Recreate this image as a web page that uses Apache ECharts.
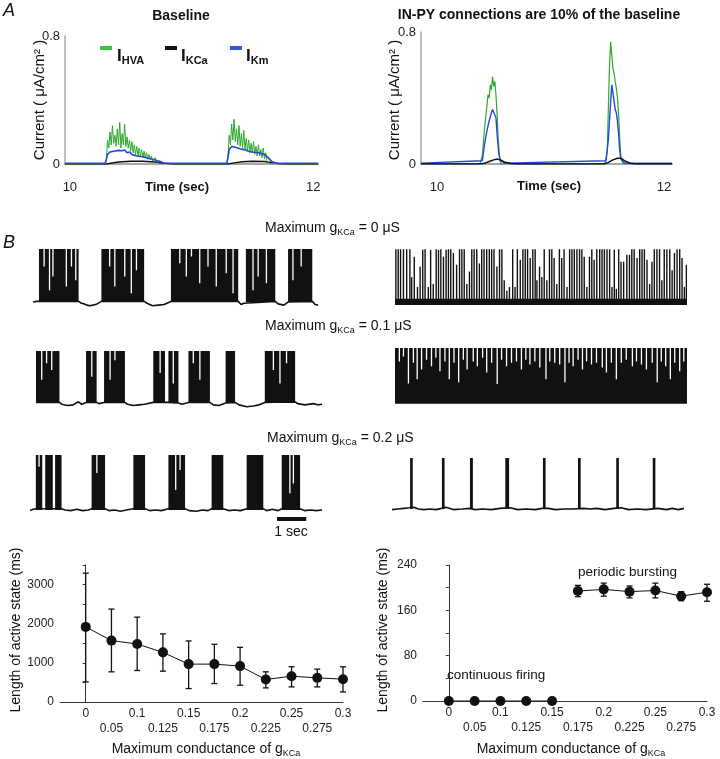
<!DOCTYPE html>
<html><head><meta charset="utf-8">
<script src="https://cdn.jsdelivr.net/npm/echarts@6/dist/echarts.min.js"></script>
<style>html,body{margin:0;padding:0;background:#fff}#c{width:720px;height:759px}</style>
</head><body><div id="c"></div>
<script>
// ================= DATA =================
// Panel A (time in s, current in uA/cm2)
const aLeftHVA = [[9.96,0.003],[10.29,0.003],[10.30,0.02],[10.31,0.15],[10.32,0.10],[10.33,0.20],[10.34,0.12],[10.35,0.24],[10.36,0.13],[10.37,0.18],[10.38,0.11],[10.39,0.22],[10.40,0.12],[10.41,0.26],[10.42,0.10],[10.43,0.19],[10.44,0.12],[10.45,0.25],[10.46,0.11],[10.47,0.17],[10.48,0.10],[10.49,0.15],[10.50,0.08],[10.51,0.14],[10.52,0.07],[10.53,0.12],[10.54,0.06],[10.55,0.11],[10.56,0.05],[10.57,0.10],[10.58,0.05],[10.59,0.09],[10.60,0.04],[10.61,0.08],[10.62,0.04],[10.63,0.07],[10.64,0.03],[10.65,0.06],[10.66,0.03],[10.67,0.05],[10.68,0.02],[10.70,0.04],[10.72,0.01],[10.74,0.02],[10.77,0.003],[11.29,0.003],[11.30,0.05],[11.31,0.18],[11.32,0.12],[11.33,0.25],[11.34,0.15],[11.35,0.28],[11.36,0.14],[11.37,0.22],[11.38,0.12],[11.39,0.24],[11.40,0.11],[11.41,0.19],[11.42,0.10],[11.43,0.21],[11.44,0.09],[11.45,0.16],[11.46,0.08],[11.47,0.15],[11.48,0.07],[11.49,0.13],[11.50,0.07],[11.51,0.14],[11.52,0.06],[11.53,0.11],[11.54,0.05],[11.55,0.12],[11.56,0.05],[11.57,0.09],[11.58,0.04],[11.59,0.10],[11.60,0.03],[11.61,0.07],[11.62,0.02],[11.64,0.003],[12.04,0.003]];
const aLeftKm = [[9.96,0.005],[10.29,0.005],[10.30,0.03],[10.31,0.06],[10.33,0.075],[10.36,0.08],[10.40,0.085],[10.43,0.083],[10.45,0.088],[10.47,0.07],[10.49,0.075],[10.51,0.06],[10.55,0.05],[10.60,0.045],[10.65,0.035],[10.70,0.025],[10.74,0.015],[10.78,0.005],[11.29,0.005],[11.30,0.04],[11.31,0.09],[11.33,0.11],[11.36,0.105],[11.40,0.095],[11.43,0.09],[11.47,0.08],[11.50,0.075],[11.55,0.07],[11.60,0.06],[11.63,0.04],[11.66,0.015],[11.70,0.005],[12.04,0.005]];
const aLeftKCa = [[9.96,0],[10.30,0],[10.35,0.006],[10.40,0.012],[10.50,0.017],[10.60,0.017],[10.70,0.012],[10.78,0.005],[10.85,0],[11.30,0],[11.35,0.007],[11.42,0.014],[11.50,0.017],[11.60,0.015],[11.66,0.008],[11.72,0.002],[11.78,0],[12.04,0]];
const aRightHVA = [[9.86,0.003],[10.38,0.003],[10.40,0.05],[10.42,0.22],[10.44,0.35],[10.45,0.42],[10.46,0.40],[10.47,0.48],[10.48,0.45],[10.49,0.53],[10.50,0.47],[10.51,0.50],[10.52,0.42],[10.53,0.30],[10.54,0.15],[10.555,0.02],[10.57,-0.005],[10.60,0.003],[11.48,0.003],[11.50,0.08],[11.51,0.35],[11.52,0.60],[11.53,0.74],[11.535,0.70],[11.54,0.66],[11.55,0.58],[11.56,0.55],[11.57,0.50],[11.58,0.46],[11.59,0.40],[11.60,0.30],[11.61,0.15],[11.62,0.04],[11.64,0.003],[12.07,0.003]];
const aRightKm = [[9.86,0.005],[10.40,0.02],[10.42,0.12],[10.44,0.20],[10.46,0.26],[10.48,0.31],[10.49,0.33],[10.50,0.32],[10.52,0.28],[10.53,0.18],[10.545,0.06],[10.56,0.02],[10.60,0.005],[11.49,0.02],[11.51,0.15],[11.53,0.38],[11.54,0.48],[11.55,0.43],[11.56,0.38],[11.57,0.33],[11.58,0.31],[11.59,0.26],[11.60,0.18],[11.61,0.08],[11.62,0.03],[11.65,0.005],[12.07,0.005]];
const aRightKCa = [[9.86,0],[10.38,0],[10.42,0.005],[10.46,0.015],[10.50,0.025],[10.53,0.03],[10.56,0.025],[10.60,0.01],[10.65,0.003],[10.70,0],[11.47,0],[11.51,0.01],[11.55,0.025],[11.59,0.035],[11.62,0.035],[11.65,0.02],[11.70,0.005],[11.75,0],[12.07,0]];
const aTicksX = [10, 12];
const aTicksY = [0, 0.8];

// Panel B voltage traces (time in s, 0..10; membrane potential in mV)
const PEAK = 20, REST = -65;
const r1lBursts = [[0.21,1.6],[2.4,3.9],[4.84,7.2],[7.47,8.5],[8.95,9.8]];
const r1lGaps = [[0.39,-8],[0.58,-46],[0.70,-24],[1.17,-40],[1.35,-8],[1.50,-30],[2.69,-8],[2.87,-40],[3.22,-24],[3.45,-51],[3.63,-14],[5.15,-3],[5.38,-24],[5.56,8],[5.85,-35],[6.14,-8],[6.43,-40],[6.78,-19],[7.02,-51],[7.72,-46],[7.90,-24],[8.19,-35],[9.12,-30],[9.41,-8]];
const r1lBase = [[0,-65],[0.1,-64],[0.21,-64],[1.6,-64],[1.7,-67],[1.8,-68],[1.9,-70],[2.0,-71],[2.1,-70],[2.25,-68],[2.4,-64],[3.9,-64],[4.0,-67],[4.2,-71],[4.4,-70],[4.6,-69],[4.84,-64],[7.2,-64],[7.3,-69],[7.4,-67],[7.47,-64],[8.5,-64],[8.6,-68],[8.8,-70],[8.95,-65],[9.8,-64],[9.9,-69],[10,-70]];

const r1rSpikes = [[0.03,18],[0.11,18],[0.19,18],[0.29,18],[0.40,18],[0.51,18],[0.57,-27],[0.66,6],[0.77,-43],[0.86,-10],[0.95,17],[1.03,18],[1.14,-43],[1.22,17],[1.31,-38],[1.41,18],[1.49,17],[1.57,18],[1.66,6],[1.75,17],[1.83,18],[1.91,18],[2.00,12],[2.11,-7],[2.21,18],[2.29,18],[2.37,18],[2.46,-38],[2.55,-18],[2.63,18],[2.71,18],[2.80,18],[2.89,-5],[2.97,18],[3.05,18],[3.14,18],[3.23,18],[3.31,18],[3.39,18],[3.49,-10],[3.58,18],[3.66,18],[3.74,-32],[3.83,-49],[3.92,-43],[4.03,18],[4.11,-43],[4.19,18],[4.29,1],[4.38,18],[4.46,18],[4.54,18],[4.63,4],[4.72,18],[4.80,18],[4.86,-32],[4.95,-10],[5.03,-27],[5.11,18],[5.20,-32],[5.29,18],[5.37,18],[5.45,4],[5.54,-38],[5.63,18],[5.71,4],[5.79,18],[5.89,-43],[5.98,18],[6.06,18],[6.14,18],[6.23,18],[6.32,18],[6.40,18],[6.48,6],[6.57,-43],[6.66,6],[6.74,18],[6.82,1],[6.91,18],[7.01,18],[7.09,18],[7.17,18],[7.26,18],[7.35,18],[7.43,-43],[7.51,17],[7.58,-46],[7.66,18],[7.74,-2],[7.83,-2],[7.94,9],[8.03,9],[8.11,18],[8.19,18],[8.29,4],[8.38,18],[8.46,18],[8.54,18],[8.63,1],[8.72,-38],[8.80,-2],[8.88,18],[8.97,18],[9.06,18],[9.14,-32],[9.22,18],[9.31,18],[9.41,18],[9.49,-16],[9.57,12],[9.66,18],[9.75,18],[9.83,4],[9.91,-43],[9.98,-7]];
const r1rBand = [[0,10,-72,-62]];

const r2lBursts = [[0,0.82],[1.75,2.12],[2.38,3.11],[4.1,4.51],[4.63,4.98],[5.33,6.08],[6.63,6.96],[8.0,9.06]];
const r2lGaps = [[0.2,-27],[0.37,0],[0.55,-11],[1.95,-22],[2.59,-27],[2.76,5],[4.34,-16],[4.8,-33],[5.5,0],[5.73,-27],[8.3,-11],[8.53,-33],[8.76,0]];
const r2lBase = [[0,-64],[0.82,-64],[0.9,-67],[1.1,-69],[1.3,-68],[1.48,-63],[1.6,-67],[1.75,-64],[2.12,-64],[2.2,-66],[2.38,-64],[3.11,-64],[3.2,-67],[3.4,-69],[3.6,-68],[3.8,-67],[4.1,-64],[4.51,-64],[4.63,-64],[4.98,-65],[5.1,-67],[5.33,-64],[6.08,-64],[6.2,-68],[6.4,-69],[6.63,-65],[6.96,-64],[7.1,-68],[7.37,-71],[7.6,-70],[7.8,-68],[8.0,-64],[9.06,-63],[9.15,-66],[9.4,-68],[9.7,-66],[9.85,-68],[10,-67]];

const r2rBlock = [[0,10,-71,20]];
const r2rGaps = [[0.15,-2],[0.29,6],[0.46,-38],[0.63,-4],[0.76,-31],[0.91,-15],[1.08,1],[1.25,-10],[1.40,4],[1.54,-18],[1.71,-2],[1.86,-31],[2.02,-4],[2.18,-36],[2.34,1],[2.47,-15],[2.68,-2],[2.82,-10],[3.0,4],[3.14,-20],[3.31,-4],[3.5,-39],[3.65,1],[3.82,-10],[3.99,-4],[4.16,-2],[4.33,-15],[4.48,1],[4.62,-7],[4.79,-2],[4.96,-12],[5.17,-31],[5.3,-2],[5.47,-4],[5.64,-7],[5.82,-36],[5.96,-4],[6.1,-10],[6.27,1],[6.42,-15],[6.56,-2],[6.73,-7],[6.9,-4],[7.1,-12],[7.24,-20],[7.41,-4],[7.58,-31],[7.75,-4],[7.92,1],[8.13,-10],[8.27,-2],[8.44,-7],[8.61,-15],[8.81,-4],[8.98,-36],[9.12,-2],[9.27,-10],[9.43,-31],[9.58,-4],[9.75,-18],[9.89,-2]];

const r3lBursts = [[0.2,0.42],[0.52,0.78],[0.86,1.08],[2.11,2.57],[3.54,3.94],[4.74,5.31],[6.22,6.62],[7.42,7.99],[8.62,9.25]];
const r3lGaps = [[2.29,-8],[4.99,-34],[5.14,-3],[8.9,-39],[9.02,-24],[0.31,2]];
const r3lBase = [[0,-66],[0.1,-64],[0.2,-63],[1.08,-63],[1.2,-65],[1.4,-66],[1.6,-64],[1.8,-66],[2.0,-65],[2.11,-63],[2.57,-63],[2.7,-66],[2.9,-65],[3.1,-67],[3.3,-65],[3.54,-63],[3.94,-63],[4.1,-66],[4.3,-65],[4.5,-66],[4.74,-63],[5.31,-63],[5.45,-66],[5.7,-67],[5.9,-65],[6.1,-66],[6.22,-63],[6.62,-63],[6.8,-66],[7.0,-65],[7.2,-66],[7.42,-63],[7.99,-63],[8.1,-66],[8.3,-64],[8.5,-66],[8.62,-63],[9.25,-63],[9.4,-66],[9.6,-65],[9.8,-66],[10,-65]];
const scaleBar = [[8.46,9.46,-79]];

const r3rBursts = [[0.62,0.71],[1.71,1.80],[2.67,2.77],[3.88,4.01],[5.17,5.26],[6.37,6.46],[7.68,7.77],[8.93,9.02]];
const r3rBase = [[0,-66],[0.2,-65],[0.4,-64],[0.6,-63],[0.75,-62],[0.9,-65],[1.1,-66],[1.3,-65],[1.5,-66],[1.7,-64],[1.85,-62],[2.1,-66],[2.4,-65],[2.65,-64],[2.85,-66],[3.1,-65],[3.4,-66],[3.7,-64],[4.05,-63],[4.3,-66],[4.6,-65],[4.9,-66],[5.15,-64],[5.35,-64],[5.6,-66],[5.9,-65],[6.2,-65],[6.55,-64],[6.8,-65],[7.0,-64],[7.3,-66],[7.6,-64],[7.85,-63],[8.1,-66],[8.4,-65],[8.7,-66],[9.1,-64],[9.4,-66],[9.6,-64],[9.8,-66],[10,-64]];

// Bottom panels
const gCats = ['0','0.05','0.1','0.125','0.15','0.175','0.2','0.225','0.25','0.275','0.3'];
const baseMean = [1919,1568,1482,1268,968,968,917,574,660,617,583];
const baseHi   = [3291,2374,2168,1740,1560,1474,1397,771,900,840,900];
const baseLo   = [514,771,805,788,343,471,428,360,386,386,257];
const inpyMean = [0,0,0,0,0,194,197,193,195,185,192];
const inpyHi   = [null,null,null,null,null,204,208,203,208,193,206];
const inpyLo   = [null,null,null,null,null,184,185,182,182,177,176];
const inpyRegime = ['c','c','c','c','c','b','b','b','b','b','b'];
const baseTicks = [0,1000,2000,3000];
const inpyTicks = [0,80,160,240];

// ================= CHART =================
const FONT = '"Liberation Sans", Arial, Helvetica, sans-serif';
const GREEN = '#2ea82e', BLUE = '#2448dc', BLACK = '#111';
const chart = echarts.init(document.getElementById('c'), null, {renderer:'canvas'});

const grids = [
  {left:65, top:36, width:253, height:128},   // 0 A left
  {left:421, top:32, width:251, height:132},  // 1 A right
  {left:33, top:249, width:285, height:57.4}, // 2 R1L
  {left:395, top:248, width:292, height:57},  // 3 R1R
  {left:36, top:351, width:286, height:56.3}, // 4 R2L
  {left:395, top:348, width:292, height:56.3},// 5 R2R
  {left:30, top:455, width:292, height:59.5}, // 6 R3L
  {left:392, top:458, width:292, height:55.2},// 7 R3R
  {left:60, top:565, width:283, height:137},  // 8 bottom left
  {left:423, top:565, width:284, height:136}  // 9 bottom right
];

const axLabel = {fontFamily:FONT, color:'#222'};
const xAxes = [], yAxes = [];
[[9.96,12.04],[9.86,12.07]].forEach((r,i)=>{
  xAxes.push({gridIndex:i, type:'value', min:r[0], max:r[1],
    axisLine:{show:true, onZero:false, lineStyle:{color:'#a8a8a8', width:2}}, axisTick:{show:false}, splitLine:{show:false},
    axisLabel:Object.assign({customValues:aTicksX, fontSize:13, margin:17, formatter:v=>String(v)}, axLabel)});
  yAxes.push({gridIndex:i, type:'value', min:0, max:0.8,
    axisLine:{show:true, lineStyle:{color:'#a8a8a8', width:1.5}}, axisTick:{show:false}, splitLine:{show:false},
    axisLabel:Object.assign({customValues:aTicksY, fontSize:13, margin:5, formatter:v=>String(v)}, axLabel)});
});
for (let i=2;i<=7;i++){
  xAxes.push({gridIndex:i, type:'value', min:0, max:10, show:false});
  yAxes.push({gridIndex:i, type:'value', min:-72, max:20, show:false});
}
function bottomX(gi){
  return {gridIndex:gi, type:'value', min:-1, max:10,
    axisLine:{show:true, onZero:false, lineStyle:{color:'#333'}}, axisTick:{show:false}, splitLine:{show:false},
    axisLabel:Object.assign({customValues:[0,1,2,3,4,5,6,7,8,9,10], fontSize:12, lineHeight:15, margin:4,
      formatter:v=>{const k=Math.round(v);return (k%2?'\n':'')+gCats[k];}}, axLabel)};
}
function bottomY(gi, max, interval, ticks){
  return {gridIndex:gi, type:'value', min:0, max, interval,
    axisLine:{show:true, lineStyle:{color:'#333'}}, axisTick:{show:true, length:3, lineStyle:{color:'#333'}}, splitLine:{show:false},
    axisLabel:Object.assign({customValues:ticks, fontSize:12, margin:6, formatter:v=>String(v)}, axLabel)};
}
xAxes.push(bottomX(8)); yAxes.push(bottomY(8, 3500, 500, baseTicks));
xAxes.push(bottomX(9)); yAxes.push(bottomY(9, 240, 40, inpyTicks));

const series = [];
function lineS(idx, data, color, w){
  series.push({type:'line', xAxisIndex:idx, yAxisIndex:idx, data, showSymbol:false, symbol:'none', silent:true,
    lineStyle:{color, width:w}, z:3, animation:false});
}
lineS(0, aLeftKCa, BLACK, 1.5); lineS(0, aLeftHVA, GREEN, 1); lineS(0, aLeftKm, BLUE, 1.6);
lineS(1, aRightHVA, GREEN, 1.2); lineS(1, aRightKm, BLUE, 1.4); lineS(1, aRightKCa, BLACK, 1.5);

function rectRender(params, api){
  const a = api.coord([api.value(0), api.value(3)]);
  const b = api.coord([api.value(1), api.value(2)]);
  return {type:'rect', shape:{x:a[0], y:a[1], width:Math.max(b[0]-a[0],2.5), height:b[1]-a[1]}, style:{fill:BLACK}};
}
function gapRender(params, api){
  const a = api.coord([api.value(0), PEAK]);
  const b = api.coord([api.value(0), api.value(1)]);
  return {type:'line', shape:{x1:a[0], y1:a[1], x2:b[0], y2:b[1]}, style:{stroke:'#fff', lineWidth:1.3}};
}
function spikeRender(params, api){
  const a = api.coord([api.value(0), REST+1]);
  const b = api.coord([api.value(0), api.value(1)]);
  return {type:'line', shape:{x1:a[0], y1:a[1], x2:b[0], y2:b[1]}, style:{stroke:BLACK, lineWidth:1.4}};
}
function customS(idx, data, render, z, clip){
  series.push({type:'custom', xAxisIndex:idx, yAxisIndex:idx, data, renderItem:render, z:z||2, silent:true, animation:false, clip: clip!==false});
}
const withLevels = b => b.map(d=>[d[0], d[1], REST, PEAK]);

customS(2, withLevels(r1lBursts), rectRender, 2); customS(2, r1lGaps, gapRender, 3); lineS(2, r1lBase, BLACK, 1.6);
customS(3, r1rBand, rectRender, 2); customS(3, r1rSpikes, spikeRender, 3);
customS(4, withLevels(r2lBursts), rectRender, 2); customS(4, r2lGaps, gapRender, 3); lineS(4, r2lBase, BLACK, 1.6);
customS(5, r2rBlock, rectRender, 2); customS(5, r2rGaps, gapRender, 3);
customS(6, withLevels(r3lBursts), rectRender, 2); customS(6, r3lGaps, gapRender, 3); lineS(6, r3lBase, BLACK, 1.6);
customS(6, scaleBar, (p, api)=>{
  const a = api.coord([api.value(0), api.value(2)]); const b = api.coord([api.value(1), api.value(2)]);
  return {type:'rect', shape:{x:a[0], y:a[1]-2, width:b[0]-a[0], height:4}, style:{fill:BLACK}};
}, 3, false);
customS(7, withLevels(r3rBursts), rectRender, 2); lineS(7, r3rBase, BLACK, 1.6);

function errRender(params, api){
  const x = api.value(0);
  const t = api.coord([x, api.value(2)]), b = api.coord([x, api.value(1)]);
  const c = 3;
  return {type:'group', children:[
    {type:'line', shape:{x1:t[0], y1:t[1], x2:b[0], y2:b[1]}, style:{stroke:BLACK, lineWidth:1.3}},
    {type:'line', shape:{x1:t[0]-c, y1:t[1], x2:t[0]+c, y2:t[1]}, style:{stroke:BLACK, lineWidth:1.3}},
    {type:'line', shape:{x1:b[0]-c, y1:b[1], x2:b[0]+c, y2:b[1]}, style:{stroke:BLACK, lineWidth:1.3}}
  ]};
}
customS(8, baseMean.map((m,i)=>[i, baseLo[i], baseHi[i]]), errRender, 2, false);
series.push({type:'line', xAxisIndex:8, yAxisIndex:8, data:baseMean.map((m,i)=>[i,m]), symbol:'circle', symbolSize:10,
  itemStyle:{color:BLACK}, lineStyle:{color:BLACK, width:1}, z:4, animation:false, silent:true});
customS(9, inpyMean.map((m,i)=>[i, inpyLo[i], inpyHi[i]]).filter(d=>d[1]!==null), errRender, 2, false);
['c','b'].forEach(r=>{
  series.push({type:'line', xAxisIndex:9, yAxisIndex:9,
    data:inpyMean.map((m,i)=>[i,m]).filter((d,i)=>inpyRegime[i]===r), symbol:'circle', symbolSize:10,
    itemStyle:{color:BLACK}, lineStyle:{color:BLACK, width:1}, z:4, animation:false, silent:true});
});

// ================= TEXT =================
function T(x, y, text, st, rot){
  return {type:'text', x, y, rotation:rot||0, silent:true, z:10,
    style:Object.assign({text, fontFamily:FONT, fontSize:14, fill:'#111', align:'left', verticalAlign:'middle'}, st||{})};
}
const subRich = (fs, ss) => ({m:{fontSize:fs, fontFamily:FONT, fill:'#111', lineHeight:fs+4},
  s:{fontSize:ss, fontFamily:FONT, fill:'#111', verticalAlign:'bottom', lineHeight:ss+1}});
const legRich = {m:{fontSize:17, fontWeight:'bold', fontFamily:FONT, fill:'#111', lineHeight:20},
  s:{fontSize:11, fontWeight:'bold', fontFamily:FONT, fill:'#111', verticalAlign:'bottom', lineHeight:12}};

const graphics = [
  T(3, 11, 'A', {fontSize:18, fontStyle:'italic'}),
  T(181, 16, 'Baseline', {fontSize:14, fontWeight:'bold', align:'center'}),
  T(539, 15, 'IN-PY connections are 10% of the baseline', {fontSize:14, fontWeight:'bold', align:'center'}),
  T(40, 100, 'Current ( μA/cm² )', {fontSize:15, align:'center'}, Math.PI/2),
  T(395, 100, 'Current ( μA/cm² )', {fontSize:15, align:'center'}, Math.PI/2),
  T(177, 187, 'Time (sec)', {fontSize:13, fontWeight:'bold', align:'center'}),
  T(549, 186, 'Time (sec)', {fontSize:13, fontWeight:'bold', align:'center'}),
  {type:'rect', shape:{x:100, y:46, width:12, height:4}, style:{fill:'#3cc23c'}},
  {type:'rect', shape:{x:165, y:46, width:12, height:4}, style:{fill:BLACK}},
  {type:'rect', shape:{x:230, y:46, width:12, height:4}, style:{fill:'#3358e0'}},
  T(117, 56, '{m|I}{s|HVA}', {rich:legRich}),
  T(181, 56, '{m|I}{s|KCa}', {rich:legRich}),
  T(246, 56, '{m|I}{s|Km}', {rich:legRich}),
  T(3, 243, 'B', {fontSize:18, fontStyle:'italic'}),
  T(265, 228, '{m|Maximum g}{s|KCa}{m| = 0 μS}', {rich:subRich(14,9)}),
  T(265, 326, '{m|Maximum g}{s|KCa}{m| = 0.1 μS}', {rich:subRich(14,9)}),
  T(267, 438, '{m|Maximum g}{s|KCa}{m| = 0.2 μS}', {rich:subRich(14,9)}),
  T(291, 532, '1 sec', {fontSize:14, align:'center'}),
  T(16, 630, 'Length of active state (ms)', {fontSize:14, align:'center'}, Math.PI/2),
  T(383, 630, 'Length of active state (ms)', {fontSize:14, align:'center'}, Math.PI/2),
  T(206, 749, '{m|Maximum conductance of g}{s|KCa}', {rich:subRich(14,9), align:'center'}),
  T(571, 749, '{m|Maximum conductance of g}{s|KCa}', {rich:subRich(14,9), align:'center'}),
  T(447, 675, 'continuous firing', {fontSize:13.5}),
  T(578, 572, 'periodic bursting', {fontSize:13.5})
];

chart.setOption({animation:false, backgroundColor:'#fff', grid:grids, xAxis:xAxes, yAxis:yAxes, series, graphic:graphics});
</script></body></html>
